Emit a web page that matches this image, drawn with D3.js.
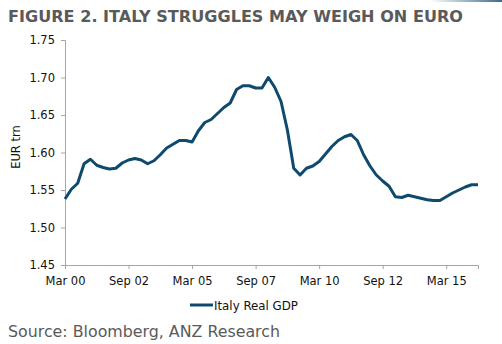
<!DOCTYPE html>
<html>
<head>
<meta charset="utf-8">
<script src="https://cdn.jsdelivr.net/npm/d3@7"></script>
<style>
  body { margin: 0; background: #fff; }
  svg { display: block; }
</style>
</head>
<body>
<svg id="chart"></svg>
<script>
// quarterly Italy real GDP, EUR trn, Mar 00 .. Jun 16
const startYear = 2000;
const gdp = [
  1.538, 1.551, 1.559, 1.585, 1.591, 1.583, 1.580, 1.578, 1.579, 1.586,
  1.590, 1.592, 1.590, 1.585, 1.589, 1.597, 1.606, 1.611, 1.616, 1.616,
  1.614, 1.629, 1.640, 1.644, 1.652, 1.660, 1.666, 1.684, 1.689, 1.689,
  1.686, 1.686, 1.700, 1.687, 1.668, 1.630, 1.579, 1.570, 1.579, 1.582,
  1.588, 1.598, 1.608, 1.616, 1.621, 1.624, 1.616, 1.597, 1.582, 1.570,
  1.562, 1.555, 1.541, 1.540, 1.543, 1.541, 1.539, 1.537, 1.536, 1.536,
  1.541, 1.546, 1.550, 1.554, 1.557, 1.557
];
const yTicks = [1.45, 1.50, 1.55, 1.60, 1.65, 1.70, 1.75];
const monthNames = ["Mar", "Jun", "Sep", "Dec"];
const title = "FIGURE 2. ITALY STRUGGLES MAY WEIGH ON EURO";
const seriesName = "Italy Real GDP";
const yLabel = "EUR trn";
const source = "Source: Bloomberg, ANZ Research";

const width = 502, height = 344;
const marginLeft = 65, marginRight = 24, marginTop = 40, marginBottom = 79;
const font = "Verdana, 'DejaVu Sans', sans-serif";

const quarterLabel = i => monthNames[i % 4] + " " + String((startYear + Math.floor(i / 4)) % 100).padStart(2, "0");
const labels = gdp.map((d, i) => quarterLabel(i));

var svg = d3.select("#chart").attr("width", width).attr("height", height);

// little gradient strip top right
var grad = svg.append("defs").append("linearGradient").attr("id", "strip");
grad.append("stop").attr("offset", "0%").attr("stop-color", "#ffffff");
grad.append("stop").attr("offset", "100%").attr("stop-color", "#3d6a8c");
svg.append("rect").attr("x", 430).attr("y", 0).attr("width", 72).attr("height", 2).attr("fill", "url(#strip)");

svg.append("text")
  .attr("x", 8).attr("y", 22)
  .attr("font-family", font).attr("font-weight", "bold").attr("font-size", 15.5)
  .attr("fill", "#5a5a5a")
  .attr("textLength", 455).attr("lengthAdjust", "spacingAndGlyphs")
  .text(title);

var xScale = d3.scalePoint()
  .domain(labels)
  .range([marginLeft, width - marginRight]);
var yScale = d3.scaleLinear()
  .domain([1.45, 1.75])
  .range([height - marginBottom, marginTop]);

//y axis
var gy = svg.append("g")
  .attr("transform", `translate(${marginLeft}, 0)`)
  .call(d3.axisLeft(yScale).tickValues(yTicks).tickFormat(d3.format(".2f")).tickSizeOuter(0).tickSize(4).tickPadding(6));
gy.select(".domain").attr("stroke", "#a6a6a6");
gy.selectAll(".tick line").attr("stroke", "#a6a6a6");
gy.selectAll(".tick text").attr("font-family", font).attr("font-size", 11.5).attr("fill", "#111");

//x axis, tick every 10 quarters
var gx = svg.append("g")
  .attr("transform", `translate(0, ${height - marginBottom})`)
  .call(d3.axisBottom(xScale).tickValues(labels.filter((d, i) => i % 10 === 0)).tickSizeOuter(0).tickSize(4).tickPadding(8));
gx.select(".domain").attr("stroke", "#a6a6a6");
gx.selectAll(".tick line").attr("stroke", "#a6a6a6");
gx.selectAll(".tick text").attr("font-family", font).attr("font-size", 11.5).attr("fill", "#111");

svg.append("text")
  .attr("transform", "translate(20, 147) rotate(-90)")
  .attr("text-anchor", "middle")
  .attr("font-family", font).attr("font-size", 11.5).attr("fill", "#111")
  .text(yLabel);

var line = d3.line()
  .x((d, i) => xScale(labels[i]))
  .y(d => yScale(d));
svg.append("path")
  .datum(gdp)
  .attr("d", line)
  .attr("fill", "none")
  .attr("stroke", "#0e4a6e")
  .attr("stroke-width", 3)
  .attr("stroke-linejoin", "round");

// legend
var lg = svg.append("g").attr("transform", "translate(190, 305)");
lg.append("line").attr("x1", 0).attr("x2", 23).attr("y1", 0).attr("y2", 0)
  .attr("stroke", "#0e4a6e").attr("stroke-width", 3);
lg.append("text").attr("x", 24).attr("y", 4.5)
  .attr("font-family", font).attr("font-size", 12).attr("fill", "#111")
  .attr("textLength", 84).attr("lengthAdjust", "spacingAndGlyphs")
  .text(seriesName);

svg.append("text")
  .attr("x", 8).attr("y", 337)
  .attr("font-family", font).attr("font-size", 15.5).attr("fill", "#5a5a5a")
  .attr("textLength", 272).attr("lengthAdjust", "spacingAndGlyphs")
  .text(source);
</script>
</body>
</html>
